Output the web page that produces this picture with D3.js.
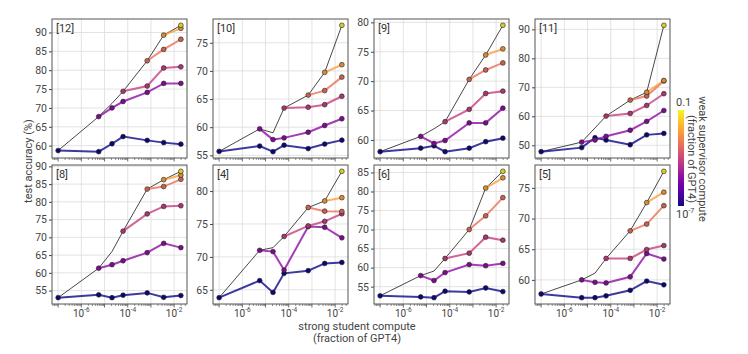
<!DOCTYPE html>
<html><head><meta charset="utf-8">
<script src="https://cdn.jsdelivr.net/npm/d3@7"></script>
<style>body{margin:0;background:#fff}svg{display:block;font-family:Roboto,"Noto Sans",sans-serif}</style>
</head><body><svg id="c" width="748" height="354"></svg>
<script>
// strong student compute (fraction of GPT4) for the 7 model sizes
const strongCompute = [1e-7, 5.6e-6, 2.1e-5, 6.3e-5, 6.9e-4, 3.55e-3, 1.95e-2];
const panelNames = ["[12]", "[10]", "[9]", "[11]", "[8]", "[4]", "[6]", "[5]"];
const yTickStep = [5, 5, 5, 10, 5, 5, 5, 5];
const xTickLabels = [1e-6, 1e-4, 1e-2];
// colour position (plasma) of each weak supervisor series
const weakColorPos = [0, 0.3, 0.47, 0.64, 0.78, 0.97];
const _ = null;
// strong ceiling (black line)
const ceilingAcc = [
  [58.7, 67.7, 71.2, 74.4, 82.5, 89.3, 91.9],
  [55.7, 59.7, 59.0, 63.4, 65.7, 69.75, 78.1],
  [58.0, 60.6, 61.9, 63.1, 70.3, 74.45, 79.5],
  [47.8, 51.1, 56.0, 60.1, 65.6, 68.3, 91.4],
  [53.0, 61.3, 66.0, 71.75, 83.6, 86.25, 88.6],
  [63.8, 71.0, 71.4, 73.1, 77.5, 78.5, 83.0],
  [52.6, 57.9, 59.1, 62.4, 70.0, 80.9, 85.3],
  [57.7, 60.0, 61.1, 63.5, 68.0, 72.6, 77.7]
];
const weakA = [
  [58.7, 58.4, 60.5, 62.4, 61.4, 60.8, 60.4],
  [55.7, 56.65, 55.65, 56.8, 56.2, 57.0, 57.7],
  [58.0, 58.6, 59.0, 58.0, 58.6, 59.7, 60.3],
  [47.8, 49.2, 52.6, 51.8, 50.2, 53.6, 54.1],
  [53.0, 53.8, 53.0, 53.7, 54.35, 53.1, 53.6],
  [63.8, 66.4, 64.6, 67.5, 67.9, 69.0, 69.15],
  [52.6, 52.3, 52.1, 53.8, 53.6, 54.65, 53.7],
  [57.7, 57.1, 57.1, 57.4, 58.3, 59.8, 59.2]
];
const weakB = [
  [_, 67.7, 70.0, 71.7, 74.1, 76.5, 76.5],
  [_, 59.7, 57.8, 58.1, 59.1, 60.3, 61.5],
  [_, 60.6, 59.4, 59.9, 62.9, 62.9, 65.4],
  [_, 51.1, 51.8, 53.1, 55.2, 58.25, 62.0],
  [_, 61.3, 62.3, 63.4, 65.7, 68.3, 67.1],
  [_, 71.0, 70.8, 68.0, 74.6, 74.5, 72.9],
  [_, 57.9, 56.6, 58.7, 60.8, 60.5, 61.1],
  [_, 60.0, 59.6, 59.5, 60.5, 64.3, 63.4]
];
const weakC = [
  [_, _, _, 74.4, 75.8, 80.6, 80.9],
  [_, _, _, 63.4, 63.55, 64.0, 65.5],
  [_, _, _, 63.1, 65.2, 67.9, 68.3],
  [_, _, _, 60.1, 61.0, 63.75, 67.8],
  [_, _, _, 71.75, 76.6, 78.7, 78.9],
  [_, _, _, 73.1, 74.7, 75.4, 76.55],
  [_, _, _, 62.4, 63.8, 68.0, 67.2],
  [_, _, _, 63.5, 63.5, 64.95, 65.6]
];
const weakD = [
  [_, _, _, _, 82.5, 85.5, 88.2],
  [_, _, _, _, 65.7, 66.5, 68.9],
  [_, _, _, _, 70.3, 71.9, 73.1],
  [_, _, _, _, 65.6, 67.0, 72.2],
  [_, _, _, _, 83.6, 84.3, 86.35],
  [_, _, _, _, 77.5, 76.95, 76.9],
  [_, _, _, _, 70.0, 73.6, 78.4],
  [_, _, _, _, 68.0, 69.1, 72.1]
];
const weakE = [
  [_, _, _, _, _, 89.3, 91.1],
  [_, _, _, _, _, 69.75, 71.1],
  [_, _, _, _, _, 74.45, 75.5],
  [_, _, _, _, _, 68.3, 72.35],
  [_, _, _, _, _, 86.25, 87.5],
  [_, _, _, _, _, 78.5, 79.0],
  [_, _, _, _, _, 80.9, 83.6],
  [_, _, _, _, _, 72.6, 74.3]
];
const weakF = [
  [_, _, _, _, _, _, 91.9],
  [_, _, _, _, _, _, 78.1],
  [_, _, _, _, _, _, 79.5],
  [_, _, _, _, _, _, 91.4],
  [_, _, _, _, _, _, 88.6],
  [_, _, _, _, _, _, 83.0],
  [_, _, _, _, _, _, 85.3],
  [_, _, _, _, _, _, 77.7]
];
const weakSeries = [weakA, weakB, weakC, weakD, weakE, weakF];

const svg = d3.select("#c");
const pw = 135, ph = 139, x0 = 52, y0 = 19, dx = 161, dy = 146;
const textCol = "#444";

// x scale (shared) with 5% padding in log space
const lx = strongCompute.map(Math.log10);
const lpad = (d3.max(lx) - d3.min(lx)) * 0.05;
const x = d3.scaleLog()
  .domain([Math.pow(10, d3.min(lx) - lpad), Math.pow(10, d3.max(lx) + lpad)])
  .range([0, pw]);
const majorX = d3.range(-7, -1).map(e => Math.pow(10, e));
const minorX = [];
for (let e = -8; e <= -1; e++) for (let m = 2; m <= 9; m++) {
  const v = m * Math.pow(10, e);
  if (v >= x.domain()[0] && v <= x.domain()[1]) minorX.push(v);
}

function sup(sel, base, exp, fs) {
  sel.append("tspan").text(base);
  sel.append("tspan").attr("dy", -fs * 0.45).attr("font-size", fs * 0.65).text(exp);
}

panelNames.forEach((name, p) => {
  const c = p % 4, r = Math.floor(p / 4);
  const g = svg.append("g").attr("transform", `translate(${x0 + c * dx},${y0 + r * dy})`);
  const all = [ceilingAcc[p], ...weakSeries.map(s => s[p])].flat().filter(v => v != null);
  const [lo, hi] = d3.extent(all);
  const pad = (hi - lo) * 0.05;
  const y = d3.scaleLinear().domain([lo - pad, hi + pad]).range([ph, 0]);
  const step = yTickStep[p];
  const yt = d3.range(Math.ceil(y.domain()[0] / step) * step, y.domain()[1], step);

  // grid
  g.append("g").selectAll("line").data(yt).join("line")
    .attr("x1", 0).attr("x2", pw).attr("y1", d => y(d)).attr("y2", d => y(d))
    .attr("stroke", "#dcdcdc").attr("stroke-width", 0.8);
  g.append("g").selectAll("line").data(majorX).join("line")
    .attr("y1", 0).attr("y2", ph).attr("x1", d => x(d)).attr("x2", d => x(d))
    .attr("stroke", "#dcdcdc").attr("stroke-width", 0.8);

  // axes
  const ya = g.append("g").call(d3.axisLeft(y).tickValues(yt).tickSize(3).tickPadding(2).tickFormat(d3.format("d")));
  ya.select(".domain").remove();
  ya.selectAll("line").attr("stroke", textCol);
  ya.selectAll("text").attr("font-size", 10.5).attr("fill", textCol).attr("font-family", "Roboto, sans-serif");

  const xa = g.append("g").attr("transform", `translate(0,${ph})`);
  xa.selectAll("line.maj").data(majorX).join("line").attr("class", "maj")
    .attr("x1", d => x(d)).attr("x2", d => x(d)).attr("y1", 0).attr("y2", 3.5).attr("stroke", textCol).attr("stroke-width", 0.8);
  xa.selectAll("line.min").data(minorX).join("line").attr("class", "min")
    .attr("x1", d => x(d)).attr("x2", d => x(d)).attr("y1", 0).attr("y2", 2).attr("stroke", textCol).attr("stroke-width", 0.6);
  if (r === 1) {
    xTickLabels.forEach(v => {
      const t = xa.append("text").attr("x", x(v)).attr("y", 12.5).attr("text-anchor", "middle")
        .attr("font-size", 10).attr("fill", textCol);
      sup(t, "10", String(Math.round(Math.log10(v))), 10);
    });
  }

  const line = d3.line().defined(d => d.v != null).x(d => x(d.x)).y(d => y(d.v));
  // ceiling
  g.append("path").datum(ceilingAcc[p].map((v, i) => ({x: strongCompute[i], v})))
    .attr("d", line).attr("fill", "none").attr("stroke", "#333").attr("stroke-width", 0.9);
  // weak series lines
  weakSeries.forEach((s, k) => {
    const col = d3.interpolatePlasma(weakColorPos[k]);
    const pts = s[p].map((v, i) => ({x: strongCompute[i], v}));
    g.append("path").datum(pts).attr("d", line).attr("fill", "none")
      .attr("stroke", col).attr("stroke-opacity", 0.8).attr("stroke-width", 2);
  });
  weakSeries.forEach((s, k) => {
    const col = d3.interpolatePlasma(weakColorPos[k]);
    const pts = s[p].map((v, i) => ({x: strongCompute[i], v})).filter(d => d.v != null);
    g.append("g").selectAll("circle").data(pts).join("circle")
      .attr("cx", d => x(d.x)).attr("cy", d => y(d.v)).attr("r", 2.4)
      .attr("fill", d3.color(col).darker(0.4)).attr("stroke", "#222").attr("stroke-width", 0.6);
  });

  // frame
  g.append("rect").attr("width", pw).attr("height", ph).attr("fill", "none")
    .attr("stroke", "#555").attr("stroke-width", 1);
  g.append("text").attr("x", 4).attr("y", 13).attr("font-size", 11).attr("fill", "#333").text(name);
});

// axis titles
svg.append("text").attr("transform", "translate(32,161) rotate(-90)").attr("text-anchor", "middle")
  .attr("font-size", 11).attr("fill", textCol).text("test accuracy (%)");
const xt = svg.append("text").attr("text-anchor", "middle").attr("font-size", 11).attr("fill", textCol);
xt.append("tspan").attr("x", 357).attr("y", 330).text("strong student compute");
xt.append("tspan").attr("x", 357).attr("y", 342).text("(fraction of GPT4)");

// colorbar
const defs = svg.append("defs");
const grad = defs.append("linearGradient").attr("id", "plasma").attr("x1", 0).attr("x2", 0).attr("y1", 1).attr("y2", 0);
d3.range(0, 1.0001, 0.05).forEach(t => grad.append("stop").attr("offset", t).attr("stop-color", d3.interpolatePlasma(t)));
const cb = d3.scaleLog().domain([1e-7, 0.1]).range([206, 110]);
svg.append("rect").attr("x", 678).attr("y", cb(0.1)).attr("width", 6).attr("height", cb(1e-7) - cb(0.1)).attr("fill", "url(#plasma)");
svg.append("text").attr("x", 676).attr("y", 106).attr("font-size", 11).attr("fill", textCol).text("0.1");
const cbl = svg.append("text").attr("x", 676).attr("y", 218).attr("font-size", 11).attr("fill", textCol);
sup(cbl, "10", "-7", 11);
const lt = svg.append("text").attr("transform", "translate(699,159) rotate(90)").attr("text-anchor", "middle")
  .attr("font-size", 11).attr("fill", textCol);
lt.append("tspan").attr("x", 0).attr("y", 0).text("weak supervisor compute");
lt.append("tspan").attr("x", 0).attr("y", 11).text("(fraction of GPT4)");
</script></body></html>
